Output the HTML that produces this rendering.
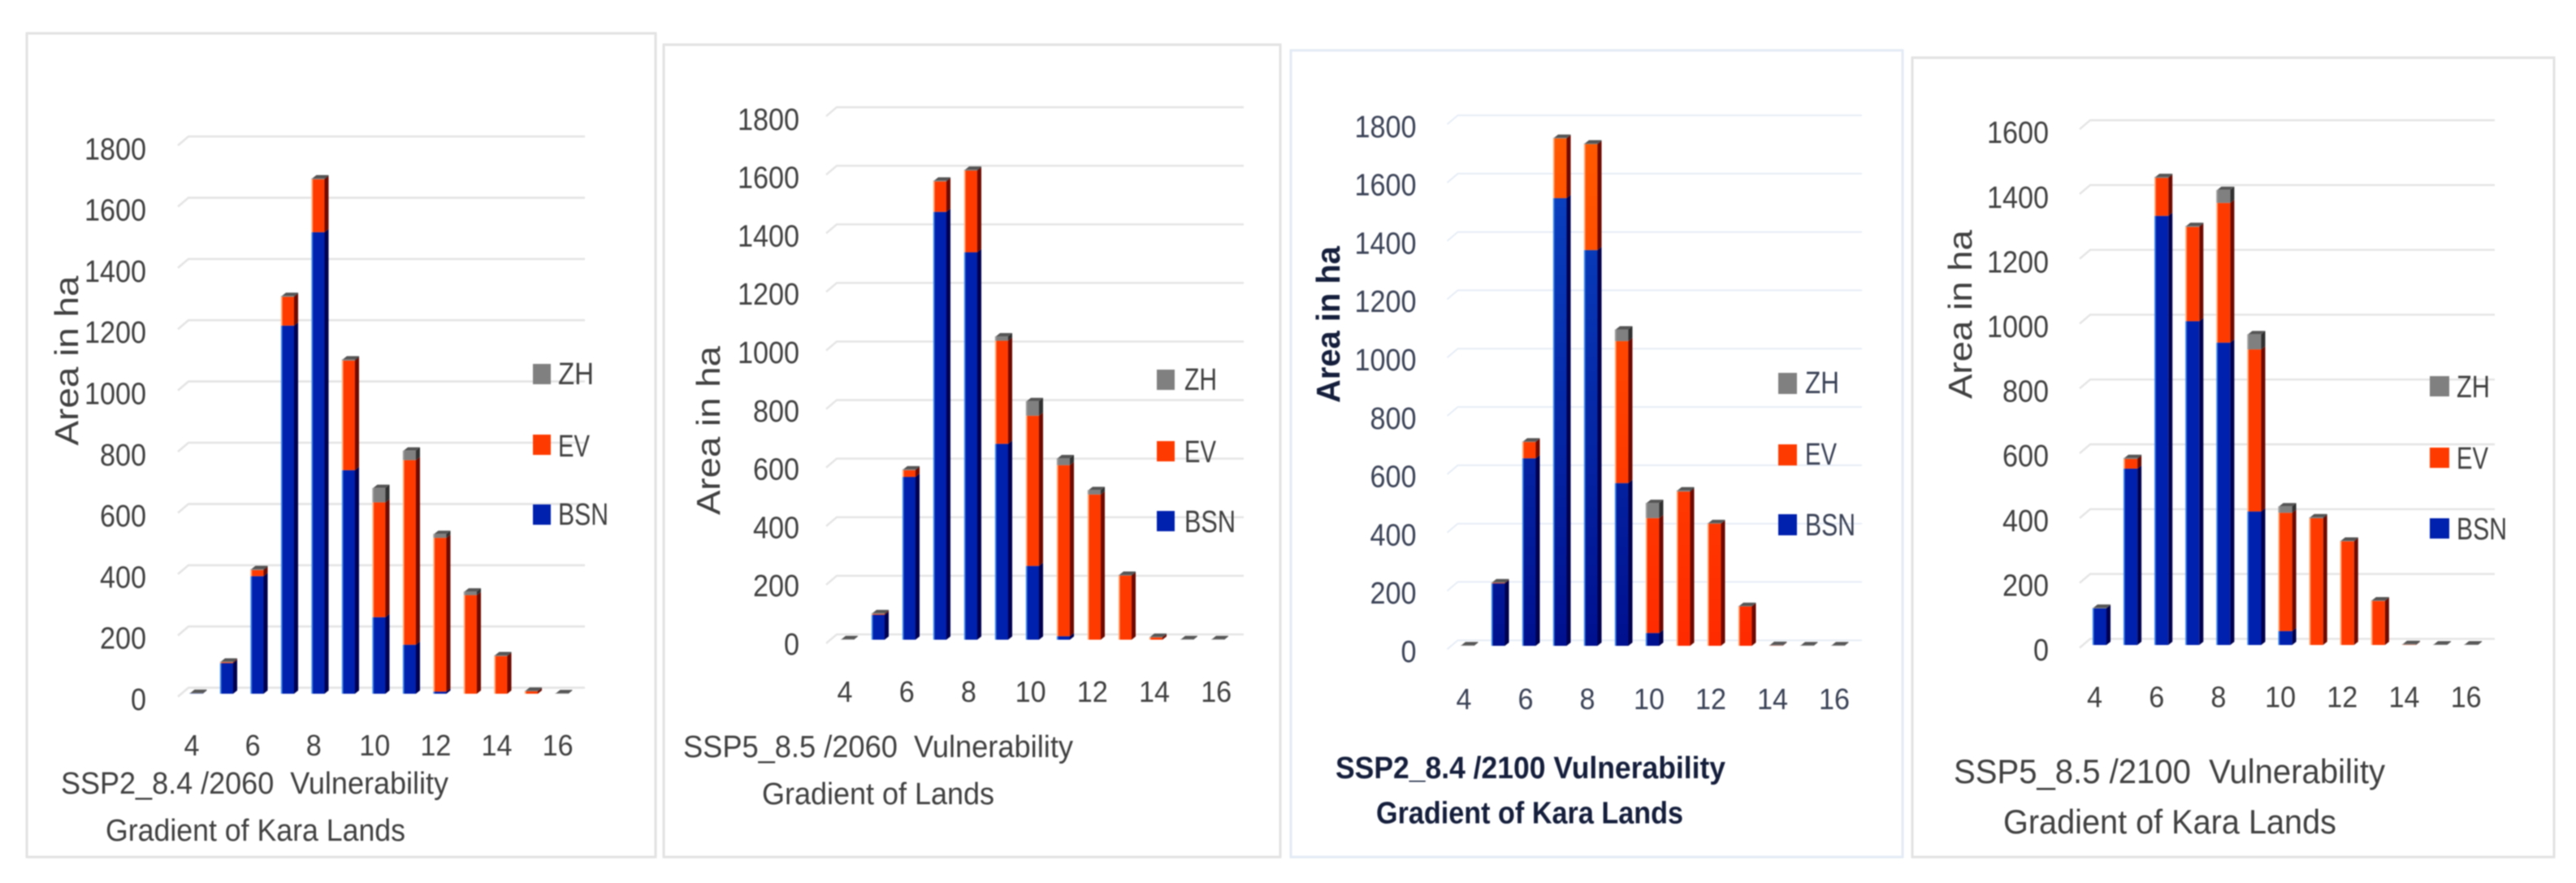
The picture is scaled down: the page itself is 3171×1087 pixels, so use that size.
<!DOCTYPE html>
<html lang="en">
<head>
<meta charset="utf-8">
<title>Vulnerability Gradient of Kara Lands</title>
<style>
html,body{margin:0;padding:0;background:#fff;}
svg{display:block;filter:blur(0.8px);}
text{font-family:"Liberation Sans",sans-serif;white-space:pre;}
</style>
</head>
<body>
<svg id="figure" xmlns="http://www.w3.org/2000/svg" width="3171" height="1087" viewBox="0 0 3171 1087">
<defs>
<linearGradient id="blue-fade" gradientUnits="userSpaceOnUse" x1="0" y1="150" x2="0" y2="795">
<stop offset="0" stop-color="#0a46c4"/><stop offset="1" stop-color="#00108f"/>
</linearGradient>
<linearGradient id="orange-fade" gradientUnits="userSpaceOnUse" x1="0" y1="150" x2="0" y2="795">
<stop offset="0" stop-color="#ff5a00"/><stop offset="1" stop-color="#ff2a00"/>
</linearGradient>
</defs>
</svg>
<script>
// ---- data ----
const categories = [4,5,6,7,8,9,10,11,12,13,14,15,16];
const xTickLabels = [4,6,8,10,12,14,16];
const yTicks1800 = [0,200,400,600,800,1000,1200,1400,1600,1800];
const yTicks1600 = [0,200,400,600,800,1000,1200,1400,1600];

const bsn2060ssp2 = [1,100,384,1202,1507,730,250,160,7,0,0,0,0];
const ev2060ssp2  = [0,3,20,94,173,358,375,603,502,322,123,8,0];
const zh2060ssp2  = [2,2,3,3,3,4,47,31,13,12,3,2,2];

const bsn2060ssp5 = [0,85,556,1461,1323,669,252,12,0,0,0,0,0];
const ev2060ssp5  = [0,3,23,104,279,352,513,584,496,219,8,0,0];
const zh2060ssp5  = [2,3,3,3,3,15,50,24,15,3,2,2,2];

const bsn2100ssp2 = [0,214,643,1535,1357,558,44,0,0,0,0,0,0];
const ev2100ssp2  = [0,2,56,205,363,487,394,529,419,135,1,0,0];
const zh2100ssp2  = [2,2,2,2,3,40,52,4,2,2,2,2,2];

const bsn2100ssp5 = [113,544,1324,999,933,412,43,0,0,0,0,0,0];
const ev2100ssp5  = [0,30,117,291,431,500,365,391,320,136,1,0,0];
const zh2100ssp5  = [2,3,3,3,40,47,20,3,2,2,2,2,2];

// ---- layout ----
const NS = 'http://www.w3.org/2000/svg';
const svg = document.getElementById('figure');
const TICK_STEP = 200;

const panels = [
 {id:'chart-ssp2-2060', box:[33,41,807,1055], border:'#e2e2e2', gridColor:'#e4e4e4', gridW:2.6,
  gridL:232, gridR:720, gridTop:168, gridStep:75.4, base:854, barL:234.5, pitch:37.5, barW:15,
  yLabelR:180, yLabelZero:860, yLabelStep:75.3, xLabel4:236, xLabelPitch:37.55, xLabelY:917,
  axisX:96, axisY:444, axisLen:209, swX:656, swY:[448,535,621], swW:22, swH:25,
  legX:687, legY:[459,548,632], legLen:[44,39,62],
  t1:'SSP2_8.4 /2060  Vulnerability', t1x:75, t1y:977, t1len:477,
  t2:'Gradient of Kara Lands', t2x:130, t2y:1035, t2len:369, tfs:38,
  textColor:'#404040', bold:false, ticks:yTicks1800, bsn:bsn2060ssp2, ev:ev2060ssp2, zh:zh2060ssp2},
 {id:'chart-ssp5-2060', box:[817,55,1576,1055], border:'#e2e2e2', gridColor:'#e4e4e4', gridW:2.4,
  gridL:1030, gridR:1531, gridTop:132, gridStep:72.1, base:787.5, barL:1036, pitch:38, barW:15,
  yLabelR:984, yLabelZero:792, yLabelStep:71.8, xLabel4:1040, xLabelPitch:38.1, xLabelY:851,
  axisX:886, axisY:530, axisLen:208, swX:1424, swY:[455,543,629], swW:22, swH:25,
  legX:1458, legY:[466,555,641], legLen:[40,39,63],
  t1:'SSP5_8.5 /2060  Vulnerability', t1x:841, t1y:932, t1len:480,
  t2:'Gradient of Lands', t2x:938, t2y:990, t2len:286, tfs:38,
  textColor:'#404040', bold:false, ticks:yTicks1800, bsn:bsn2060ssp5, ev:ev2060ssp5, zh:zh2060ssp5},
 {id:'chart-ssp2-2100', box:[1589,62,2342,1055], border:'#e3ebf5', gridColor:'#e6edf6', gridW:2,
  gridL:1794.5, gridR:2292, gridTop:142, gridStep:71.8, base:795, barL:1799, pitch:38, barW:15.5,
  yLabelR:1743.5, yLabelZero:801, yLabelStep:71.8, xLabel4:1802, xLabelPitch:38, xLabelY:860,
  axisX:1649, axisY:399.5, axisLen:193, swX:2189, swY:[459,547,633], swW:23, swH:26,
  legX:2222, legY:[470,558,645], legLen:[42,39,62],
  t1:'SSP2_8.4 /2100 Vulnerability', t1x:1644, t1y:958, t1len:480,
  t2:'Gradient of Kara Lands', t2x:1694, t2y:1013.5, t2len:378, tfs:38,
  textColor:'#3a4256', titleColor:'#151f3c', bold:true, fade:true, ticks:yTicks1800, bsn:bsn2100ssp2, ev:ev2100ssp2, zh:zh2100ssp2},
 {id:'chart-ssp5-2100', box:[2354,71,3144,1055], border:'#e2e2e2', gridColor:'#e4e4e4', gridW:2.4,
  gridL:2573, gridR:3071, gridTop:148, gridStep:79.8, base:794, barL:2577, pitch:38.1, barW:16,
  yLabelR:2522, yLabelZero:799, yLabelStep:79.6, xLabel4:2578.5, xLabelPitch:38.1, xLabelY:857.5,
  axisX:2427, axisY:387, axisLen:208, swX:2991, swY:[463,551,638], swW:24, swH:25,
  legX:3024, legY:[475,563,650], legLen:[41,39,62],
  t1:'SSP5_8.5 /2100  Vulnerability', t1x:2405, t1y:964, t1len:531,
  t2:'Gradient of Kara Lands', t2x:2466, t2y:1026, t2len:410, tfs:42,
  textColor:'#404040', bold:false, ticks:yTicks1600, bsn:bsn2100ssp5, ev:ev2100ssp5, zh:zh2100ssp5}
];

const seriesStyle = {
 BSN:{front:'#0020ae', side:'#00004e', edge:'#3f86e6'},
 EV: {front:'#ff3a00', side:'#6e0a00', edge:'#ffab7a'},
 ZH: {front:'#808080', side:'#303030', edge:'#a0a0a0'}
};

function shape(tag, parent, attrs){
  const el = document.createElementNS(NS, tag);
  for (const k in attrs) el.setAttribute(k, attrs[k]);
  parent.appendChild(el);
  return el;
}
function label(parent, str, x, y, size, anchor, len, fill, weight){
  const el = shape('text', parent, {x:x, y:y, 'font-size':size, 'text-anchor':anchor, fill:fill, 'font-weight':weight||'normal', textLength:len, lengthAdjust:'spacingAndGlyphs'});
  el.textContent = str;
  return el;
}

panels.forEach(function(p){
  const totalSteps = p.ticks.length - 1;
  const gridZero = p.gridTop + totalSteps * p.gridStep;
  const depthX = 5, depthY = 4, gridDx = -13, gridDy = 11;

  // axis functions
  const gridY = function(v){ return gridZero - v / TICK_STEP * p.gridStep; };
  const valueY = function(v){ return p.base - v / TICK_STEP * p.gridStep; };
  const barX = function(cat){ return p.barL + (cat - categories[0]) * p.pitch; };
  const yLabelY = function(v){ return p.yLabelZero - v / TICK_STEP * p.yLabelStep; };
  const xLabelX = function(cat){ return p.xLabel4 + (cat - categories[0]) * p.xLabelPitch; };

  const g = shape('g', svg, {});
  
  

  const frame = shape('rect', g, {x:p.box[0], y:p.box[1], width:p.box[2]-p.box[0], height:p.box[3]-p.box[1], fill:'#fff', stroke:p.border, 'stroke-width':3});
  
  

  // gridlines
  p.ticks.forEach(function(t){
    const y = gridY(t);
    const line = shape('polyline', g, {points:(p.gridL+gridDx)+','+(y+gridDy)+' '+p.gridL+','+y+' '+p.gridR+','+y, fill:'none', stroke:p.gridColor, 'stroke-width':p.gridW});
    
    
  });

  // y tick labels
  p.ticks.forEach(function(t){
    const s = String(t);
    const el = label(g, s, p.yLabelR, yLabelY(t) + 14, 38, 'end', s.length * 19, p.textColor);
    
    
  });

  // x tick labels
  xTickLabels.forEach(function(c){
    const s = String(c);
    const el = label(g, s, xLabelX(c), p.xLabelY + 13, 36, 'middle', s.length * 19, p.textColor);
    
    
  });

  // stacked 3D bars
  categories.forEach(function(cat, i){
    const x = barX(cat), w = p.barW;
    const bar = shape('g', g, {});
    
    
    let cum = 0;
    [['BSN', p.bsn[i]], ['EV', p.ev[i]], ['ZH', p.zh[i]]].forEach(function(item){
      const name = item[0], val = item[1];
      if (val <= 0) return;
      const st = seriesStyle[name];
      const y0 = valueY(cum), y1 = valueY(cum + val);
      const seg = shape('g', bar, {});
      
      
      let front = st.front;
      if (p.fade && name === 'BSN') front = 'url(#blue-fade)';
      if (p.fade && name === 'EV') front = 'url(#orange-fade)';
      shape('polygon', seg, {points:(x+w)+','+y0+' '+(x+w+depthX)+','+(y0-depthY)+' '+(x+w+depthX)+','+(y1-depthY)+' '+(x+w)+','+y1, fill:st.side});
      shape('rect', seg, {x:x, y:y1, width:w, height:y0-y1, fill:front});
      shape('rect', seg, {x:x-1.2, y:y1, width:1.8, height:y0-y1, fill:st.edge});
      cum += val;
    });
    const yt = valueY(cum);
    const top = shape('polygon', bar, {points:x+','+yt+' '+(x+w)+','+yt+' '+(x+w+depthX)+','+(yt-depthY)+' '+(x+depthX)+','+(yt-depthY), fill:'#555555'});
    
    
  });

  // y axis title
  const axisFill = p.bold ? p.titleColor : p.textColor;
  const axisTitle = label(g, 'Area in ha', 0, 0, 41, 'middle', p.axisLen, axisFill, p.bold ? 'bold' : 'normal');
  axisTitle.setAttribute('transform', 'translate(' + p.axisX + ',' + p.axisY + ') rotate(-90)');
  
  

  // legend
  ['ZH','EV','BSN'].forEach(function(name, k){
    const swatch = shape('rect', g, {x:p.swX, y:p.swY[k], width:p.swW, height:p.swH, fill:seriesStyle[name].front});
    
    
    const txt = label(g, name, p.legX, p.legY[k] + 14, 38, 'start', p.legLen[k], p.textColor);
    
    
  });

  // caption
  const titleFill = p.titleColor || p.textColor;
  const titleWeight = p.bold ? 'bold' : 'normal';
  const line1 = label(g, p.t1, p.t1x, p.t1y, p.tfs, 'start', p.t1len, titleFill, titleWeight);
  
  
  const line2 = label(g, p.t2, p.t2x, p.t2y, p.tfs, 'start', p.t2len, titleFill, titleWeight);
  
  
});
</script>
</body>
</html>
